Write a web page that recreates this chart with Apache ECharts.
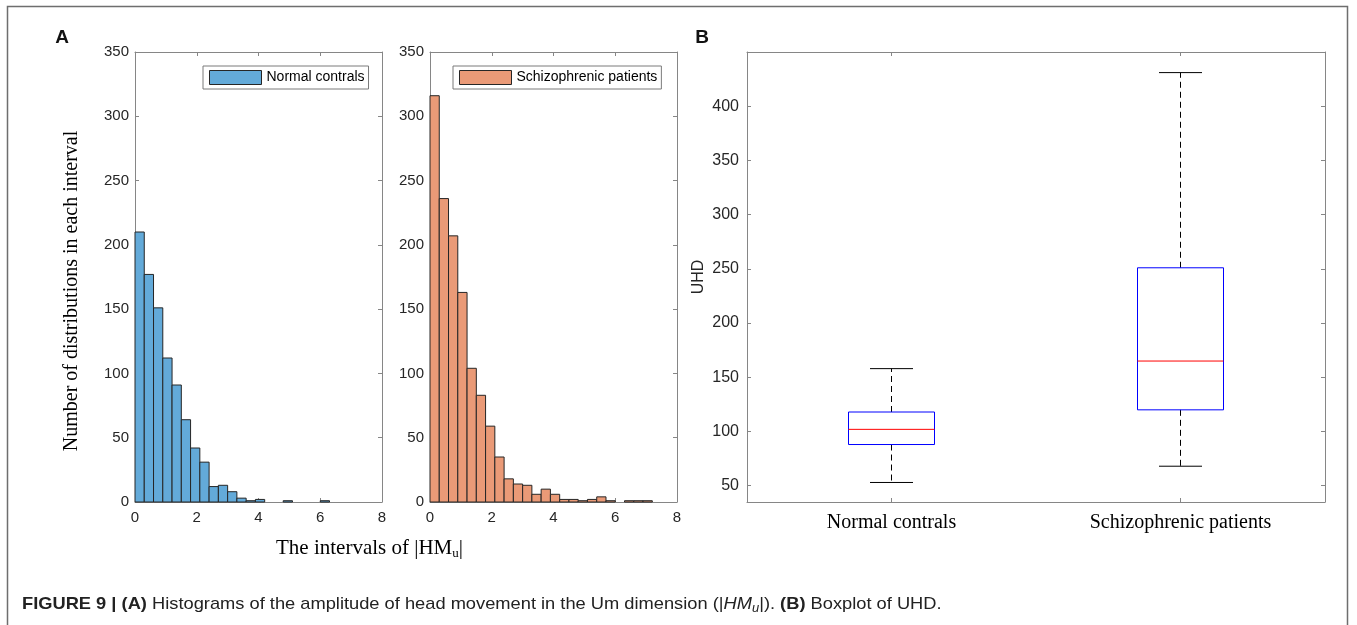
<!DOCTYPE html>
<html>
<head>
<meta charset="utf-8">
<script src="https://cdn.jsdelivr.net/npm/echarts@6/dist/echarts.min.js"></script>
<style>
html, body { margin: 0; padding: 0; background: #fff; }
#chart { width: 1357px; height: 625px; }
</style>
</head>
<body>
<div id="chart"></div>
<script>
// histogram bins (width 0.3) and counts
const binEdges = [0, 0.3, 0.6, 0.9, 1.2, 1.5, 1.8, 2.1, 2.4, 2.7, 3.0, 3.3, 3.6, 3.9, 4.2, 4.5, 4.8, 5.1, 5.4, 5.7, 6.0, 6.3, 6.6, 6.9, 7.2]
const normalCounts = [210, 177, 151, 112, 91, 64, 42, 31, 12, 13, 8, 3, 1, 2, 0, 0, 1, 0, 0, 0, 1, 0, 0, 0]
const schizoCounts = [316, 236, 207, 163, 104, 83, 59, 35, 18, 14, 13, 6, 10, 6, 2, 2, 1, 2, 4, 1, 0, 1, 1, 1]

// boxplot of UHD
const groups = ['Normal contrals', 'Schizophrenic patients']
const uhdMin = [53, 68]
const uhdQ1 = [88, 120]
const uhdMedian = [102, 165]
const uhdQ3 = [118, 251]
const uhdMax = [158, 431]
const uhdTicks = [50, 100, 150, 200, 250, 300, 350, 400]

const chart = echarts.init(document.getElementById('chart'))

const sans = 'Liberation Sans, Arial, Helvetica, sans-serif'
const serif = 'Liberation Serif, Times New Roman, serif'
const axisGray = '#868686'

const toBins = counts => counts.map((c, i) => [binEdges[i], binEdges[i + 1], c]).filter(d => d[2] > 0)

function histItem(params, api) {
	const p0 = api.coord([api.value(0), api.value(2)])
	const p1 = api.coord([api.value(1), 0])
	return {
		type: 'rect',
		shape: { x: p0[0], y: p0[1], width: p1[0] - p0[0], height: p1[1] - p0[1] },
		style: { fill: api.visual('color'), stroke: '#262626', lineWidth: 1 }
	}
}

function boxItem(params, api) {
	const i = api.value(0)
	const pMin = api.coord([i, api.value(1)])
	const pQ1 = api.coord([i, api.value(2)])
	const pMed = api.coord([i, api.value(3)])
	const pQ3 = api.coord([i, api.value(4)])
	const pMax = api.coord([i, api.value(5)])
	const cx = pMed[0]
	const hw = 43, cw = 21.5
	const dash = { stroke: '#000', lineWidth: 1, lineDash: [6, 4] }
	const solid = { stroke: '#000', lineWidth: 1 }
	return {
		type: 'group',
		children: [
			{ type: 'line', shape: { x1: cx, y1: pQ3[1], x2: cx, y2: pMax[1] }, style: dash },
			{ type: 'line', shape: { x1: cx, y1: pQ1[1], x2: cx, y2: pMin[1] }, style: dash },
			{ type: 'line', shape: { x1: cx - cw, y1: pMax[1], x2: cx + cw, y2: pMax[1] }, style: solid },
			{ type: 'line', shape: { x1: cx - cw, y1: pMin[1], x2: cx + cw, y2: pMin[1] }, style: solid },
			{ type: 'rect', shape: { x: cx - hw, y: pQ3[1], width: hw * 2, height: pQ1[1] - pQ3[1] },
				style: { fill: 'none', stroke: '#0000ff', lineWidth: 1 } },
			{ type: 'line', shape: { x1: cx - hw, y1: pMed[1], x2: cx + hw, y2: pMed[1] },
				style: { stroke: '#ff0000', lineWidth: 1 } }
		]
	}
}

const tickIn = { show: true, inside: true, length: 4, lineStyle: { color: axisGray } }
const lineGray = { show: true, onZero: false, lineStyle: { color: axisGray, width: 1 } }
const tickFont = { fontFamily: sans, fontSize: 15, color: '#262626' }

const histX = (grid, pos) => ({
	type: 'value', gridIndex: grid, position: pos, min: 0, max: 8, interval: 2,
	axisLine: lineGray, axisTick: tickIn, splitLine: { show: false },
	axisLabel: pos === 'bottom' ? Object.assign({ margin: 8 }, tickFont) : { show: false }
})
const histY = (grid, pos) => ({
	type: 'value', gridIndex: grid, position: pos, min: 0, max: 350, interval: 50,
	axisLine: lineGray, axisTick: tickIn, splitLine: { show: false },
	axisLabel: pos === 'left' ? Object.assign({ margin: 6 }, tickFont) : { show: false }
})
const boxX = pos => ({
	type: 'category', gridIndex: 2, position: pos, data: groups,
	axisLine: lineGray, splitLine: { show: false },
	axisTick: Object.assign({ alignWithLabel: true }, tickIn),
	axisLabel: pos === 'bottom' ? { margin: 11, fontFamily: serif, fontSize: 20, color: '#000' } : { show: false }
})
const boxY = pos => ({
	type: 'value', gridIndex: 2, position: pos, min: 35, max: 450,
	axisLine: lineGray, splitLine: { show: false },
	axisTick: Object.assign({ customValues: uhdTicks }, tickIn),
	axisLabel: pos === 'left'
		? Object.assign({ margin: 8, customValues: uhdTicks }, tickFont, { fontSize: 16 })
		: { show: false },
	name: pos === 'left' ? 'UHD' : '',
	nameLocation: 'middle', nameGap: 40,
	nameTextStyle: { fontFamily: sans, fontSize: 16, color: '#262626' }
})

const legendBase = {
	top: 66, orient: 'horizontal', icon: 'rect', itemWidth: 52, itemHeight: 14,
	padding: [4, 4, 4, 6], borderColor: '#7a7a7a', borderWidth: 1, backgroundColor: '#fff',
	selectedMode: false, itemGap: 0,
	textStyle: { fontFamily: sans, fontSize: 14, color: '#000' }
}

const option = {
	animation: false,
	backgroundColor: '#fff',
	grid: [
		{ left: 135, top: 52, width: 247, height: 450 },
		{ left: 430, top: 52, width: 247, height: 450 },
		{ left: 747, top: 52, width: 578, height: 450 }
	],
	xAxis: [histX(0, 'bottom'), histX(0, 'top'), histX(1, 'bottom'), histX(1, 'top'), boxX('bottom'), boxX('top')],
	yAxis: [histY(0, 'left'), histY(0, 'right'), histY(1, 'left'), histY(1, 'right'), boxY('left'), boxY('right')],
	legend: [
		Object.assign({}, legendBase, { left: 203, data: ['Normal contrals'],
			itemStyle: { color: '#63aad9', borderColor: '#262626', borderWidth: 1 } }),
		Object.assign({}, legendBase, { left: 453, data: ['Schizophrenic patients'],
			itemStyle: { color: '#ea9a77', borderColor: '#262626', borderWidth: 1 } })
	],
	series: [
		{
			name: 'Normal contrals', type: 'custom', xAxisIndex: 0, yAxisIndex: 0,
			itemStyle: { color: '#63aad9' },
			renderItem: histItem, data: toBins(normalCounts)
		},
		{
			name: 'Schizophrenic patients', type: 'custom', xAxisIndex: 2, yAxisIndex: 2,
			itemStyle: { color: '#ea9a77' },
			renderItem: histItem, data: toBins(schizoCounts)
		},
		{
			name: 'UHD', type: 'custom', xAxisIndex: 4, yAxisIndex: 4,
			renderItem: boxItem,
			data: groups.map((g, i) => [i, uhdMin[i], uhdQ1[i], uhdMedian[i], uhdQ3[i], uhdMax[i]])
		}
	],
	graphic: [
		{ type: 'rect', silent: true, shape: { x: 7.5, y: 6.5, width: 1340, height: 700 },
			style: { fill: 'none', stroke: '#6e6e6e', lineWidth: 1.5 } },
		{ type: 'text', x: 62, y: 38, style: { text: 'A', fontFamily: sans, fontWeight: 'bold', fontSize: 19,
			fill: '#111', align: 'center', verticalAlign: 'middle' } },
		{ type: 'text', x: 702, y: 38, style: { text: 'B', fontFamily: sans, fontWeight: 'bold', fontSize: 19,
			fill: '#111', align: 'center', verticalAlign: 'middle' } },
		{ type: 'text', x: 72, y: 291, rotation: Math.PI / 2,
			style: { text: 'Number of distributions in each interval', fontFamily: serif, fontSize: 20,
				fill: '#000', align: 'center', verticalAlign: 'middle' } },
		{ type: 'text', x: 276, y: 548,
			style: {
				text: 'The intervals of |HM{sub|u}|', fontFamily: serif, fontSize: 21, fill: '#000',
				verticalAlign: 'middle', lineHeight: 24,
				rich: { sub: { fontFamily: serif, fontSize: 13, lineHeight: 13, verticalAlign: 'bottom', fill: '#000' } }
			} },
		{ type: 'text', x: 22, y: 604, scaleX: 1.075,
			style: {
				text: '{b|FIGURE 9 | (A)} Histograms of the amplitude of head movement in the Um dimension (|{i|HM}{sub|u}|). {b|(B)} Boxplot of UHD.',
				fontFamily: sans, fontSize: 17, fill: '#222', verticalAlign: 'middle', lineHeight: 21,
				rich: {
					b: { fontFamily: sans, fontSize: 17, fontWeight: 'bold', fill: '#222' },
					i: { fontFamily: sans, fontSize: 17, fontStyle: 'italic', fill: '#222' },
					sub: { fontFamily: sans, fontSize: 12, fontStyle: 'italic', lineHeight: 12, verticalAlign: 'bottom', fill: '#222' }
				}
			} }
	]
}

chart.setOption(option)
</script>
</body>
</html>
